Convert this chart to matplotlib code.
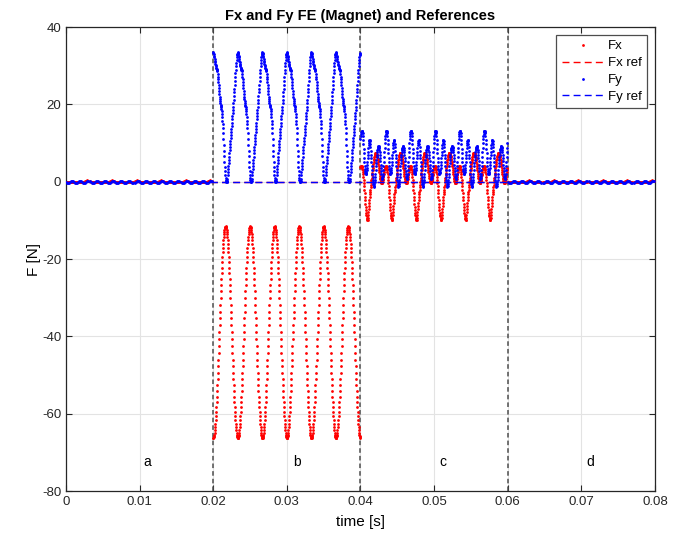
import numpy as np
import matplotlib
matplotlib.use("Agg")
import matplotlib.pyplot as plt

plt.rcParams['font.family'] = ['Liberation Sans', 'DejaVu Sans']
plt.rcParams['axes.unicode_minus'] = False

# Simulation window and the four operating intervals a-d
t_end = 0.08
boundaries = [0.02, 0.04, 0.06]
region_names = ['a', 'b', 'c', 'd']
region_label_x = [0.011, 0.0314, 0.0512, 0.0712]
region_label_y = -72.5
periods_per_region = 6          # electrical periods in each 0.02 s interval

# One period of each force trace (N), sampled uniformly over the period
# Intervals a and d: magnet idle, almost no force
fx_idle = [0, 0, 0, 0, 0, 0, 0, 0, 0, 0, 0, 0,
           0, 0, 0, 0, 0, 0, 0, 0.1, 0.3, 0.45, 0.3, 0.1]
fy_idle = [-0.1, -0.3, -0.4, -0.3, -0.1, 0.05, 0.1, 0.05,
           -0.1, -0.3, -0.4, -0.3, -0.1, 0.05, 0.1, 0.05,
           -0.1, -0.3, -0.4, -0.3, -0.1, 0.05, 0.1, 0.05]

# Interval b
fx_b = [-66.3, -66.2, -66.1, -65.8, -65.4, -64.9, -64.2, -63.5, -62.6, -61.7,
        -60.6, -59.5, -58.3, -57.0, -55.6, -54.1, -52.6, -51.0, -49.4, -47.7,
        -46.0, -44.3, -42.5, -40.7, -38.9, -37.1, -35.3, -33.6, -31.8, -30.1,
        -28.4, -26.8, -25.2, -23.7, -22.2, -20.8, -19.5, -18.3, -17.2, -16.1,
        -15.2, -14.3, -13.6, -13.0, -12.4, -12.0, -11.7, -11.6, -11.5,
        -11.6, -11.7, -12.0, -12.4, -13.0, -13.6, -14.3, -15.2, -16.1, -17.2,
        -18.3, -19.5, -20.8, -22.2, -23.7, -25.2, -26.8, -28.4, -30.1, -31.8,
        -33.6, -35.3, -37.1, -38.9, -40.7, -42.5, -44.3, -46.0, -47.7, -49.4,
        -51.0, -52.6, -54.1, -55.6, -57.0, -58.3, -59.5, -60.6, -61.7, -62.6,
        -63.5, -64.2, -64.9, -65.4, -65.8, -66.1, -66.2]
fy_b = [33.5, 33.3, 33.0, 32.6, 32.2, 31.8, 31.3, 30.9, 30.5, 30.1,
        29.8, 29.5, 29.3, 29.1, 29.0, 28.8, 28.5, 27.9, 27.2, 26.5,
        25.8, 25.0, 24.2, 23.4, 22.6, 21.9, 21.3, 20.8, 20.3, 19.9,
        19.6, 19.2, 18.8, 18.2, 17.5, 16.7, 15.8, 14.9, 13.8, 12.5,
        11.0, 9.5, 8.0, 6.6, 5.2, 3.9, 2.8, 1.7, 0.9, 0.4,
        0.1, 0.0, 0.0, 0.1, 0.3, 0.8, 1.6, 2.4, 3.3, 4.1,
        4.9, 5.7, 6.5, 7.3, 8.2, 9.0, 9.8, 10.6, 11.4, 12.1,
        12.9, 13.7, 14.5, 15.3, 16.1, 16.9, 17.7, 18.5, 19.4, 20.3,
        21.2, 22.1, 23.1, 24.0, 25.0, 26.0, 27.0, 28.0, 29.0, 29.9,
        30.8, 31.5, 32.2, 32.7, 33.1, 33.4]

# Interval c
fx_c = [3.8, 3.9, 4.0, 4.0, 4.0, 3.9, 3.7, 3.4, 3.0, 2.5,
        1.9, 1.2, 0.5, -0.4, -1.2, -2.1, -3.0, -3.9, -4.8, -5.7,
        -6.5, -7.3, -8.0, -8.6, -9.0, -9.4, -9.6, -9.8, -9.8, -9.3,
        -8.6, -7.8, -7.0, -6.2, -5.5, -4.7, -4.0, -3.3, -2.7, -2.1,
        -1.5, -0.8, -0.2, 0.4, 1.0, 1.7, 2.3, 2.9, 3.5, 4.1,
        4.6, 5.1, 5.5, 5.9, 6.3, 6.7, 7.0, 7.2, 7.4, 7.5,
        7.5, 7.5, 7.4, 7.2, 7.0, 6.7, 6.3, 5.9, 5.5, 5.0,
        4.5, 4.0, 3.5, 3.0, 2.5, 2.0, 1.5, 1.0, 0.6, 0.3,
        0.0, -0.2, -0.3, -0.3, -0.3, 0.0, 0.2, 0.5, 0.8, 1.2,
        1.6, 2.0, 2.5, 2.9, 3.2, 3.5]
fy_c = [11.0, 11.8, 12.4, 12.9, 13.2, 13.2, 13.1, 12.8, 12.5, 11.7,
        10.8, 9.7, 8.5, 7.3, 6.2, 5.0, 4.0, 3.3, 2.7, 2.3,
        2.0, 2.0, 2.2, 2.5, 3.0, 3.6, 4.3, 5.1, 6.0, 6.9,
        7.8, 8.7, 9.5, 10.1, 10.5, 10.7, 10.8, 10.4, 9.8, 9.0,
        8.0, 7.0, 6.0, 5.0, 4.0, 3.0, 2.1, 1.3, 0.5, -0.1,
        -0.6, -1.0, -1.3, -1.0, -0.6, -0.1, 0.5, 1.3, 2.1, 3.0,
        4.0, 4.8, 5.6, 6.3, 7.0, 7.6, 8.1, 8.5, 8.8, 9.0,
        9.1, 9.1, 9.0, 8.7, 8.2, 7.7, 7.0, 6.2, 5.3, 4.4,
        3.5, 2.7, 1.9, 1.3, 0.8, 0.8, 1.0, 1.4, 2.0, 2.9,
        4.0, 5.2, 6.5, 7.7, 8.8, 10.0]

# Reference forces per interval (N)
fx_ref_levels = [0, 0, 0, 0]
fy_ref_levels = [0, 0, 0, 0]

region_fx = [fx_idle, fx_b, fx_c, fx_idle]
region_fy = [fy_idle, fy_b, fy_c, fy_idle]

starts = [0.0] + boundaries
ends = boundaries + [t_end]

t_all, fx_all, fy_all = [], [], []
t_ref, fx_ref, fy_ref = [], [], []
for t0, t1, px, py, rx, ry in zip(starts, ends, region_fx, region_fy,
                                  fx_ref_levels, fy_ref_levels):
    n = len(px) * periods_per_region
    t = t0 + np.arange(n) * (t1 - t0) / n
    t_all.append(t)
    fx_all.append(np.tile(px, periods_per_region))
    fy_all.append(np.tile(py, periods_per_region))
    t_ref.append([t0, t1])
    fx_ref.append([rx, rx])
    fy_ref.append([ry, ry])

t_all = np.concatenate(t_all)
fx_all = np.concatenate(fx_all)
fy_all = np.concatenate(fy_all)
t_ref = np.concatenate(t_ref)
fx_ref = np.concatenate(fx_ref)
fy_ref = np.concatenate(fy_ref)

fig = plt.figure(figsize=(6.81, 5.34), dpi=100)
ax = fig.add_axes([0.0969, 0.0805, 0.8649, 0.8689])

for b in boundaries:
    ax.axvline(b, color='0.3', lw=1.1, ls=(0, (3, 2)), zorder=1)

ax.plot(t_all, fx_all, 'o', color='#ff0000', ms=2.0, mew=0, label='Fx', zorder=3)
ax.plot(t_ref, fx_ref, '--', color='#ff0000', lw=1.0, dashes=(5, 3),
        label='Fx ref', zorder=3)
ax.plot(t_all, fy_all, 'o', color='#0000ff', ms=2.0, mew=0, label='Fy', zorder=4)
ax.plot(t_ref, fy_ref, '--', color='#0000ff', lw=1.0, dashes=(5, 3),
        label='Fy ref', zorder=4)

for name, x in zip(region_names, region_label_x):
    ax.text(x, region_label_y, name, ha='center', va='center', fontsize=10)

ax.set_xlim(0, t_end)
ax.set_ylim(-80, 40)
ax.set_xticks(np.arange(0, 0.0801, 0.01))
ax.set_xticklabels(['0', '0.01', '0.02', '0.03', '0.04', '0.05', '0.06', '0.07', '0.08'])
ax.set_yticks(np.arange(-80, 41, 20))
ax.tick_params(direction='in', top=True, right=True, labelsize=9.5,
               length=4, width=0.8, colors='0.15')
ax.grid(True, color='#e3e3e3', lw=0.8)
ax.set_axisbelow(True)
for s in ax.spines.values():
    s.set_color('0.15')
    s.set_linewidth(0.9)

ax.set_xlabel('time [s]', fontsize=11)
ax.set_ylabel('F [N]', fontsize=11)
ax.xaxis.set_label_coords(0.5, -0.052)
ax.yaxis.set_label_coords(-0.042, 0.5)
ax.set_title('Fx and Fy FE (Magnet) and References', fontsize=10.5,
             fontweight='bold', pad=5)

leg = ax.legend(loc='upper right', fontsize=9.5, fancybox=False,
                edgecolor='0.3', framealpha=1, handlelength=3.2,
                borderaxespad=0.6, labelspacing=0.35, handletextpad=0.3)
leg.get_frame().set_linewidth(0.9)

fig.savefig('out.png', dpi=100)
